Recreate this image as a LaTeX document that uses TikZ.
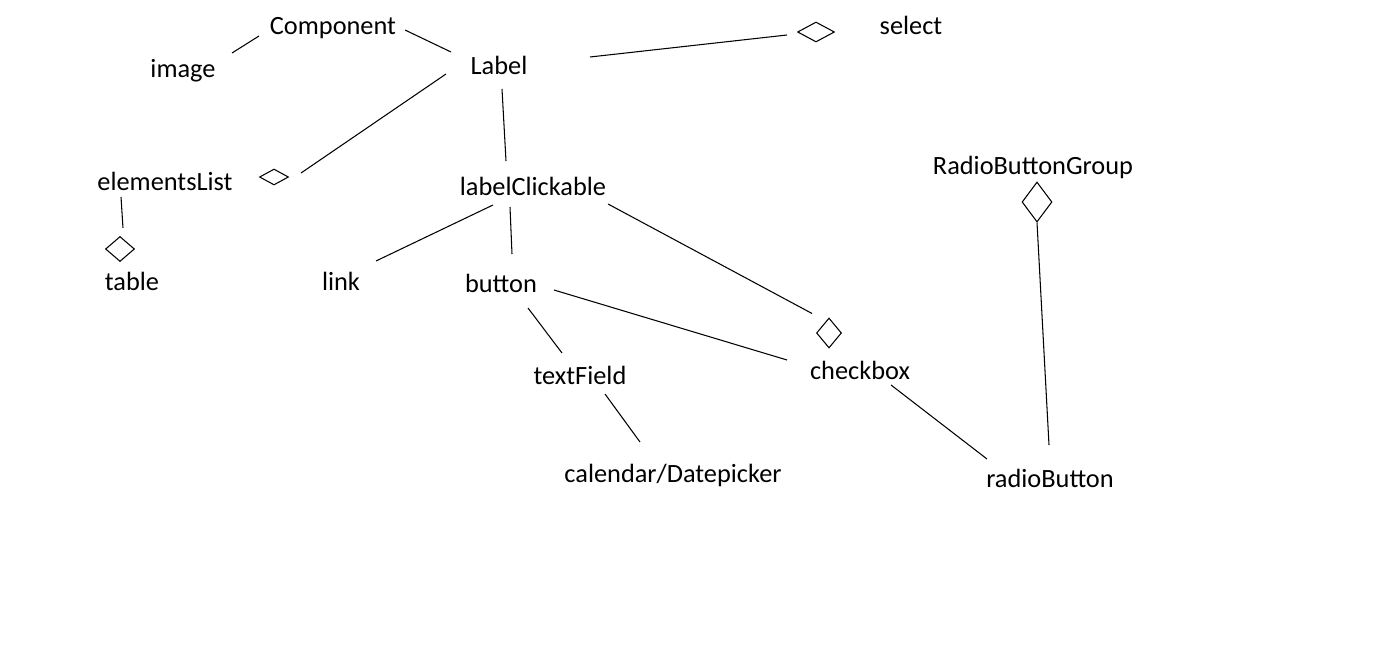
\documentclass[tikz,border=0pt]{standalone}
\usepackage{fontspec}
\setmainfont{Carlito}
\usetikzlibrary{shapes.geometric}
\definecolor{colortext}{RGB}{0,0,0}
\definecolor{colorline}{RGB}{0,0,0}
\definecolor{colorback}{RGB}{255,255,255}

\begin{document}
\begin{tikzpicture}[
    x=0.02cm, y=-0.02cm,
    class/.style={text=colortext,font={\fontsize{15}{18}\selectfont},inner sep=0pt,anchor=base},
    agg/.style={draw=colorline,shape=diamond,inner sep=0pt,line width=0.6pt},
    assoc/.style={draw=colorline,line width=0.6pt}
]
    \fill[colorback] (0,0) rectangle (1396,652);
    \useasboundingbox (0,0) rectangle (1396,652);

    % Top row
    \node[class] (comp) at (333,35) {Component};
    \node[class] (image) at (183,78) {image};
    \node[class] (lbl) at (499,75) {Label};
    \node[class] (select) at (911,35) {select};
    \node[agg,minimum width=0.74cm,minimum height=0.40cm] (dSel) at (816,32) {};

    % Lists
    \node[class] (elist) at (165,190) {elementsList};
    \node[agg,minimum width=0.58cm,minimum height=0.32cm] (dElem) at (274,177) {};
    \node[class] (table) at (132,290) {table};
    \node[agg,minimum width=0.58cm,minimum height=0.50cm] (dTable) at (120,249) {};

    % Clickable labels
    \node[class] (lc) at (533,195) {labelClickable};
    \node[class] (lnk) at (341,290) {link};
    \node[class] (button) at (501,292) {button};
    \node[class] (tfield) at (580,384) {textField};
    \node[class] (cal) at (673,482) {calendar/Datepicker};
    \node[class] (check) at (860,379) {checkbox};
    \node[agg,minimum width=0.50cm,minimum height=0.60cm] (dCheck) at (829,333) {};

    % Radio buttons
    \node[class] (rbg) at (1033,174) {RadioButtonGroup};
    \node[agg,minimum width=0.60cm,minimum height=0.80cm] (dGroup) at (1037,202) {};
    \node[class] (rbtn) at (1050,487) {radioButton};

    % Lines between classes
    \draw[assoc] ([shift={(49,-25)}]image.base) -- ([shift={(-74,1)}]comp.base);
    \draw[assoc] ([shift={(72,-5)}]comp.base) -- ([shift={(-48,-23)}]lbl.base);
    \draw[assoc] ([shift={(91,-18)}]lbl.base) -- ([shift={(-10,3)}]dSel.west);
    \draw[assoc] ([shift={(-53,-1)}]lbl.base) -- ([shift={(12,-4)}]dElem.east);
    \draw[assoc] ([shift={(-44,7)}]elist.base) -- ([shift={(3,-8)}]dTable.north);
    \draw[assoc] ([shift={(3,14)}]lbl.base) -- ([shift={(-27,-34)}]lc.base);
    \draw[assoc] ([shift={(-40,10)}]lc.base) -- ([shift={(35,-29)}]lnk.base);
    \draw[assoc] ([shift={(-23,12)}]lc.base) -- ([shift={(11,-38)}]button.base);
    \draw[assoc] ([shift={(75,9)}]lc.base) -- ([shift={(-17,-4)}]dCheck.north);
    \draw[assoc] ([shift={(53,-2)}]button.base) -- ([shift={(-73,-19)}]check.base);
    \draw[assoc] ([shift={(27,16)}]button.base) -- ([shift={(-18,-31)}]tfield.base);
    \draw[assoc] ([shift={(25,10)}]tfield.base) -- ([shift={(-33,-40)}]cal.base);
    \draw[assoc] ([shift={(31,6)}]check.base) -- ([shift={(-63,-28)}]rbtn.base);
    \draw[assoc] (dGroup.south) -- ([shift={(-1,-42)}]rbtn.base);

\end{tikzpicture}
\end{document}
